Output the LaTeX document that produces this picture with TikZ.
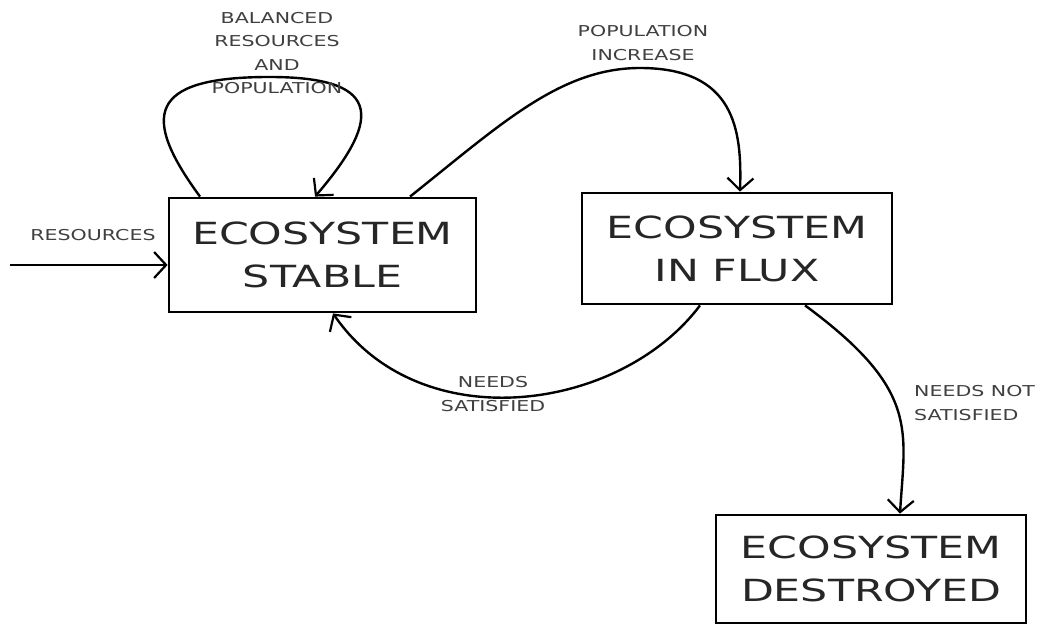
\documentclass[tikz,border=0pt]{standalone}
\usepackage{fontspec}
\usetikzlibrary{arrows.meta}
\newfontfamily\bigfont[FakeStretch=1.4]{DejaVu Sans}
\newfontfamily\smallfont[FakeStretch=1.37]{DejaVu Sans}
\tikzset{
  statebox/.style={draw, line width=2.8pt, inner sep=0pt, align=center,
    font=\bigfont\fontsize{30.5}{43}\selectfont, text=black!85},
  lbl/.style={align=center, inner sep=0pt, font=\smallfont\fontsize{15}{23.5}\selectfont, text=black!75},
  conn/.style={line width=2.4pt, -{Straight Barb[length=12pt,width=26pt,line width=2.2pt]}}
}
\begin{document}
\begin{tikzpicture}[x=1pt,y=-1pt]
\useasboundingbox[fill=white] (0,0) rectangle (1042,627);
% boxes
\node[statebox, minimum width=307pt, minimum height=114pt] (stable) at (322.5,255) {ECOSYSTEM\\STABLE};
\node[statebox, minimum width=310pt, minimum height=111pt] (flux) at (737,248.5) {ECOSYSTEM\\IN FLUX};
\node[statebox, minimum width=310pt, minimum height=108pt] (destroyed) at (871,569) {ECOSYSTEM\\DESTROYED};
% helper coordinates
\coordinate (src) at (10,265);
\coordinate (loopA) at ([xshift=-122.5pt]stable.north);
\coordinate (loopB) at ([xshift=-7.5pt]stable.north);
\coordinate (popA) at ([xshift=87.5pt]stable.north);
\coordinate (popB) at ([xshift=3pt]flux.north);
\coordinate (satA) at ([xshift=-37pt]flux.south);
\coordinate (satB) at ([xshift=10.5pt]stable.south);
\coordinate (notA) at ([xshift=68pt]flux.south);
\coordinate (notB) at ([xshift=29pt]destroyed.north);
% connectors
\draw[conn] (src) -- (src -| stable.west);
\draw[conn] (loopA) .. controls (140,115) and (150,78) .. (265,77)
   .. controls (380,76) and (385,115) .. (loopB);
\draw[conn] (popA) .. controls (500,125) and (560,68) .. (640,68)
   .. controls (735,68) and (742,130) .. (popB);
\draw[conn] (satA) .. controls (620,412) and (420,440) .. (satB);
\draw[conn] (notA) .. controls (920,390) and (905,430) .. (notB);
% labels
\node[lbl] (lres) at (93,235) {RESOURCES};
\node[lbl] (lbal) at (277,53) {BALANCED\\RESOURCES\\AND\\POPULATION};
\node[lbl] (lpop) at (643,43) {POPULATION\\INCREASE};
\node[lbl] (lsat) at (493,394) {NEEDS\\SATISFIED};
\node[lbl, align=left, anchor=west] (lnot) at (914,403) {NEEDS NOT\\SATISFIED};
\end{tikzpicture}
\end{document}
